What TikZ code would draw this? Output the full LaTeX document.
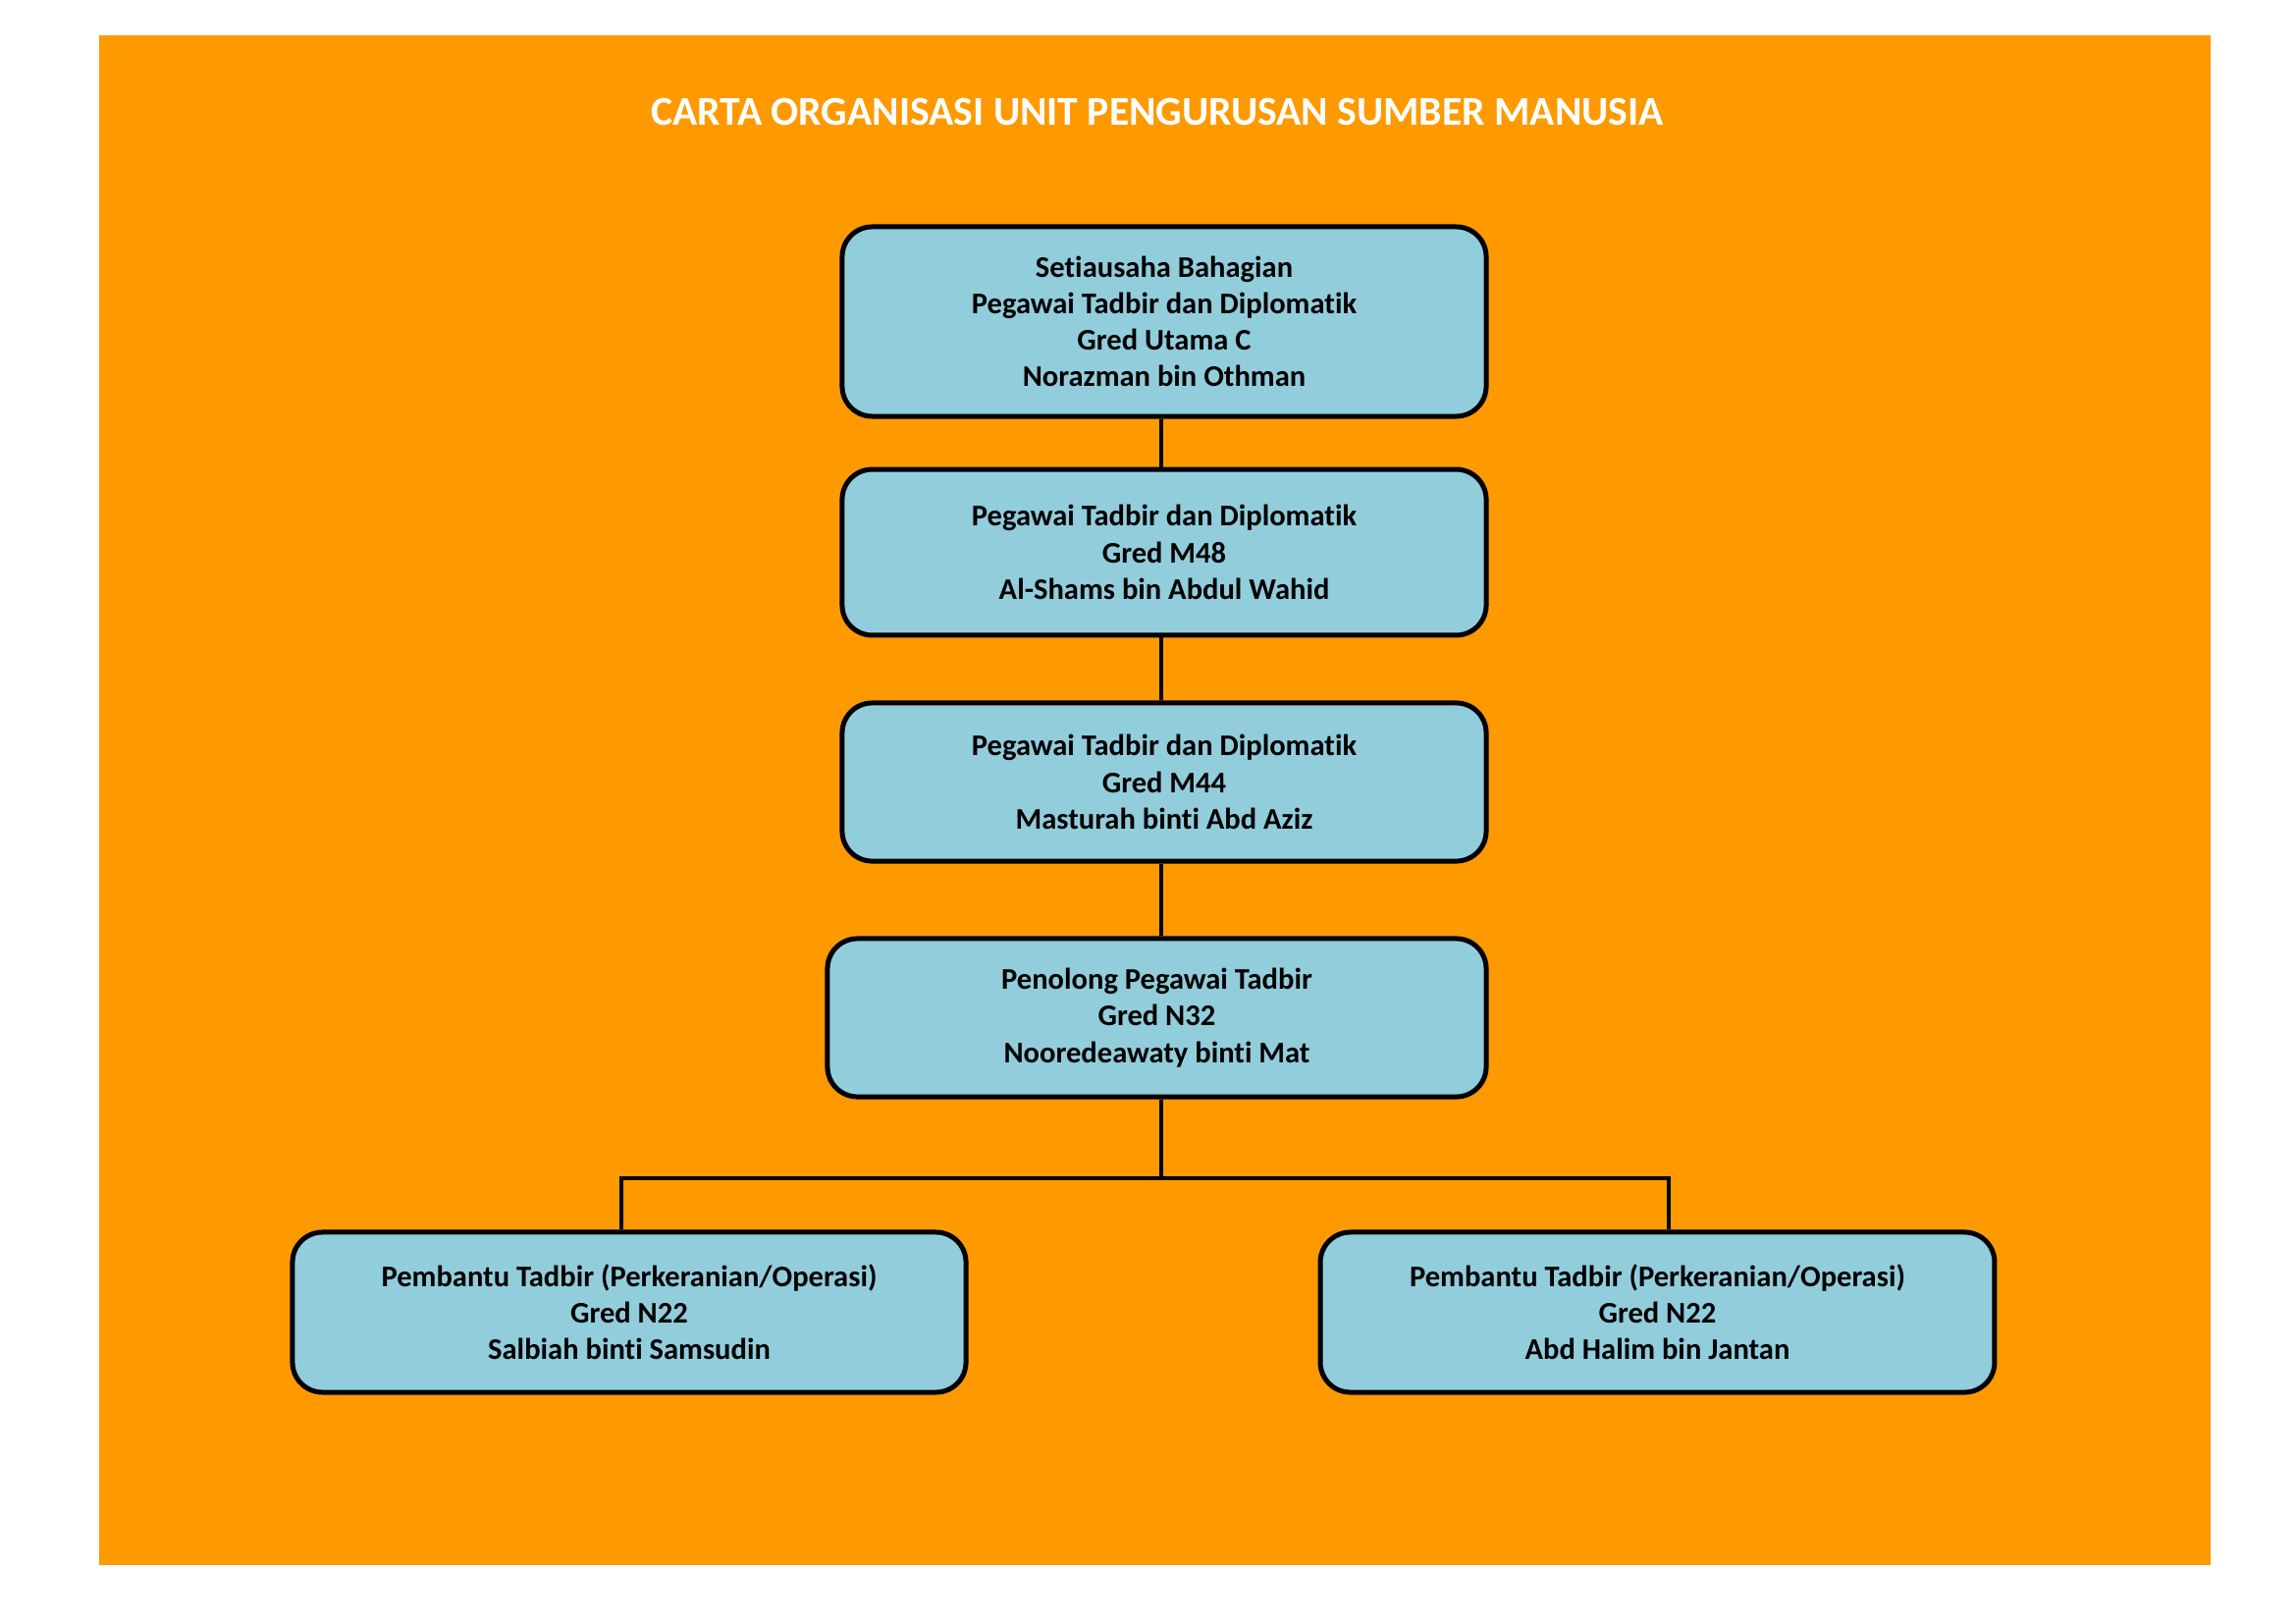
\documentclass[tikz,border=0pt]{standalone}
\usepackage{fontspec}
\setmainfont[Ligatures=NoCommon]{Carlito}
\definecolor{bgorange}{HTML}{FE9A00}
\definecolor{boxblue}{HTML}{92CDDC}
\begin{document}
\begin{tikzpicture}[x=0.36pt,y=-0.36pt,
  orgbox/.style={draw=black,fill=boxblue,line width=1.8pt,rounded corners=11pt,
    align=center,font=\bfseries\fontsize{11}{13.4}\selectfont,inner sep=0pt},
  link/.style={draw=black,line width=1.2pt}]
\useasboundingbox (0,0) rectangle (2339,1653);
\fill[bgorange] (101,36) rectangle (2252,1594);
\node[text=white,font=\bfseries\fontsize{15}{18}\selectfont] (title) at (1179,114) {CARTA ORGANISASI UNIT PENGURUSAN SUMBER MANUSIA};
\node[orgbox,minimum width=236.2pt,minimum height=69.5pt] (b1) at (1186,327.5)
  {Setiausaha Bahagian\\Pegawai Tadbir dan Diplomatik\\Gred Utama C\\Norazman bin Othman};
\node[orgbox,minimum width=236.2pt,minimum height=60.8pt] (b2) at (1186,562.5)
  {Pegawai Tadbir dan Diplomatik\\Gred M48\\Al-Shams bin Abdul Wahid};
\node[orgbox,minimum width=236.2pt,minimum height=58pt] (b3) at (1186,796.5)
  {Pegawai Tadbir dan Diplomatik\\Gred M44\\Masturah binti Abd Aziz};
\node[orgbox,minimum width=241.6pt,minimum height=58pt] (b4) at (1178.5,1036.5)
  {Penolong Pegawai Tadbir\\Gred N32\\Nooredeawaty binti Mat};
\node[orgbox,minimum width=247pt,minimum height=58.7pt] (b5) at (641,1336.5)
  {Pembantu Tadbir (Perkeranian/Operasi)\\Gred N22\\Salbiah binti Samsudin};
\node[orgbox,minimum width=247.3pt,minimum height=58.7pt] (b6) at (1688.5,1336.5)
  {Pembantu Tadbir (Perkeranian/Operasi)\\Gred N22\\Abd Halim bin Jantan};
\coordinate (cx) at (1183,0);
\coordinate (bar) at (0,1200);
\coordinate (dl) at (633,0);
\coordinate (dr) at (1700,0);
\draw[link] (b1.south -| cx) -- (b2.north -| cx);
\draw[link] (b2.south -| cx) -- (b3.north -| cx);
\draw[link] (b3.south -| cx) -- (b4.north -| cx);
\draw[link] (b4.south -| cx) -- (bar -| cx);
\draw[link] (b5.north -| dl) -- (bar -| dl) -- (bar -| dr) -- (b6.north -| dr);
\end{tikzpicture}
\end{document}
